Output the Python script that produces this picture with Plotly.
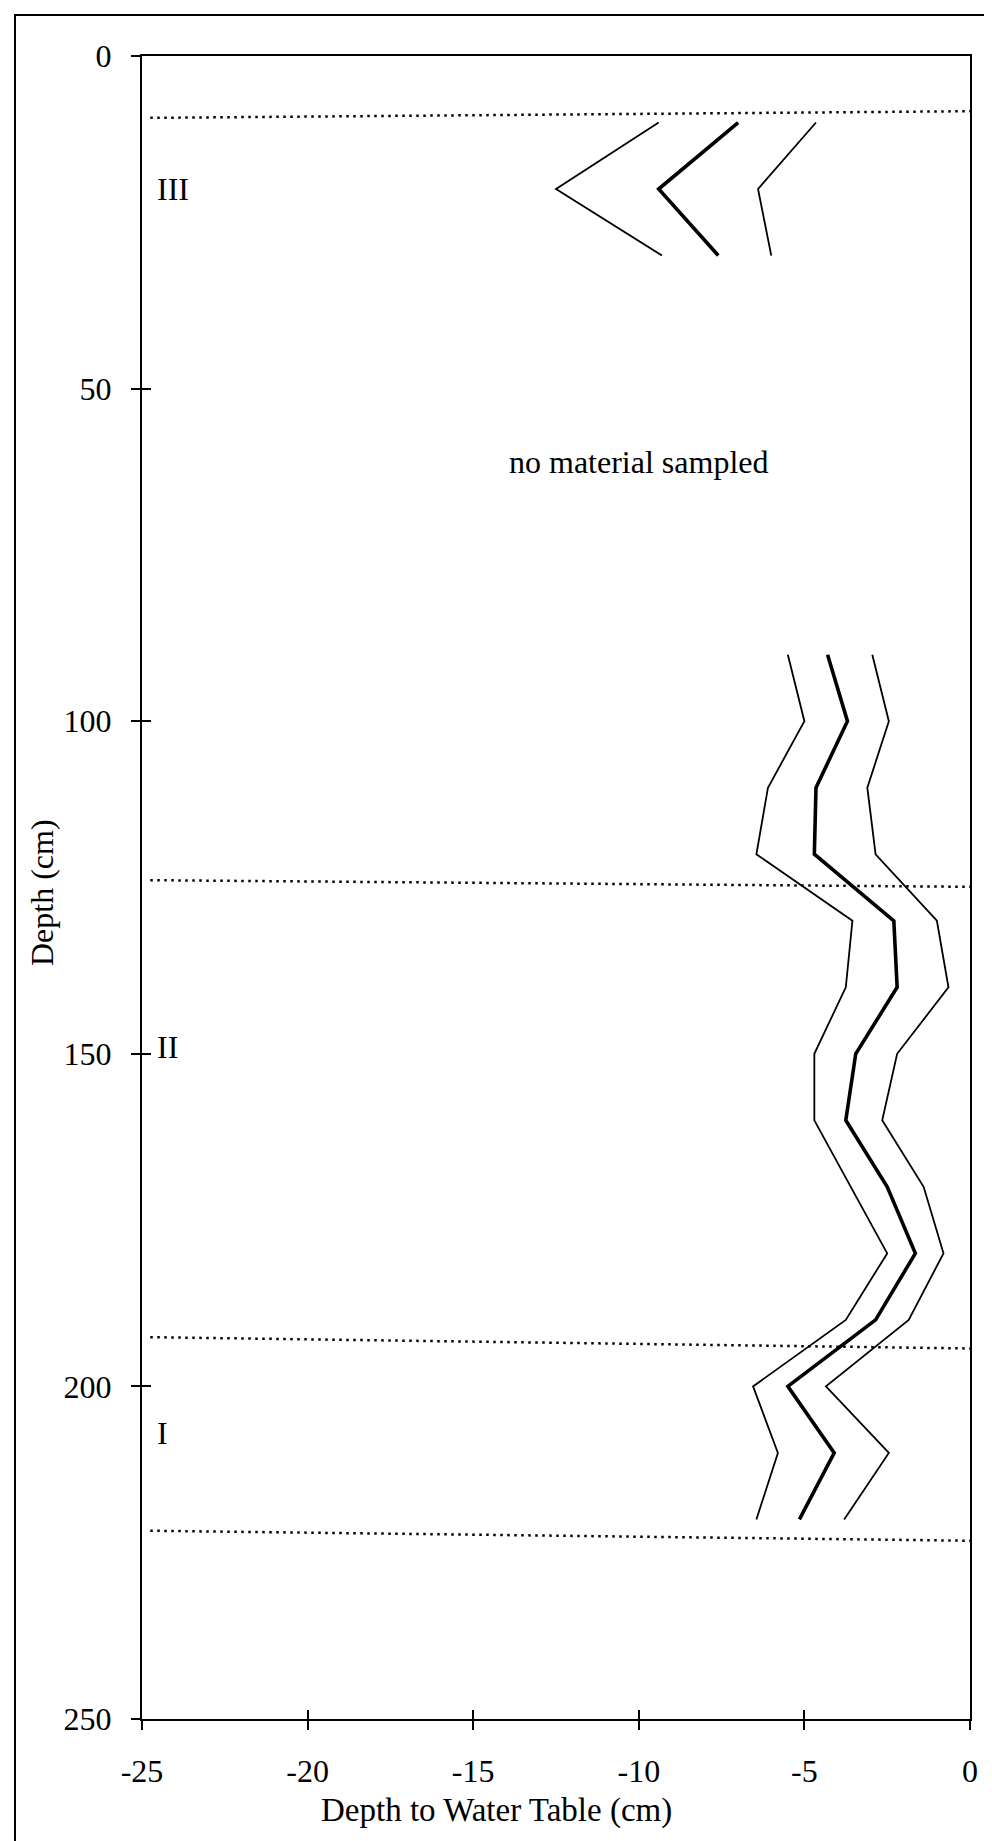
import plotly.graph_objects as go

# ---- data ----
depth_III = [10, 20, 30]
lower_III = [-9.4, -12.5, -9.3]
mean_III = [-7.0, -9.4, -7.6]
upper_III = [-4.65, -6.4, -6.0]

depth_I_II = [90, 100, 110, 120, 130, 140, 150, 160, 170, 180, 190, 200, 210, 220]
lower_I_II = [-5.5, -5.0, -6.1, -6.45, -3.55, -3.75, -4.7, -4.7, -3.6, -2.5, -3.75, -6.55, -5.8, -6.45]
mean_I_II = [-4.3, -3.7, -4.65, -4.7, -2.3, -2.2, -3.45, -3.75, -2.5, -1.65, -2.85, -5.5, -4.1, -5.15]
upper_I_II = [-2.95, -2.45, -3.1, -2.85, -1.0, -0.65, -2.2, -2.65, -1.4, -0.8, -1.85, -4.35, -2.45, -3.8]

# unit boundaries (depth at left end, depth at right end)
boundary_left = [9.3, 123.9, 192.6, 221.7]
boundary_right = [8.3, 124.9, 194.3, 223.2]
boundary_x = [-24.75, 0]

unit_labels = ["III", "II", "I"]
unit_depths = [20, 149, 207]

x_ticks = [-25, -20, -15, -10, -5, 0]
y_ticks = [0, 50, 100, 150, 200, 250]

FONT = "Liberation Serif, Times New Roman, serif"
BLACK = "#000000"

fig = go.Figure()

for bl, br in zip(boundary_left, boundary_right):
    fig.add_trace(go.Scatter(x=boundary_x, y=[bl, br], mode="lines",
                             line=dict(color=BLACK, width=2.5, dash="2.5px,4.5px"),
                             showlegend=False, hoverinfo="skip"))

for d, lo, me, up in [(depth_III, lower_III, mean_III, upper_III),
                      (depth_I_II, lower_I_II, mean_I_II, upper_I_II)]:
    fig.add_trace(go.Scatter(x=lo, y=d, mode="lines",
                             line=dict(color=BLACK, width=1.8), showlegend=False))
    fig.add_trace(go.Scatter(x=me, y=d, mode="lines",
                             line=dict(color=BLACK, width=3.6), showlegend=False))
    fig.add_trace(go.Scatter(x=up, y=d, mode="lines",
                             line=dict(color=BLACK, width=1.8), showlegend=False))

# dummy trace for the overlay axes (inner half of crossing ticks)
fig.add_trace(go.Scatter(x=[None], y=[None], xaxis="x2", yaxis="y2",
                         showlegend=False, hoverinfo="skip"))

axis_common = dict(showgrid=False, zeroline=False, linecolor=BLACK, linewidth=2,
                   ticks="outside", ticklen=9, tickwidth=1.8, tickcolor=BLACK,
                   tickfont=dict(family=FONT, size=32, color=BLACK))

fig.update_layout(
    width=992, height=1841,
    margin=dict(l=134, r=30, t=48, b=130),
    paper_bgcolor="white", plot_bgcolor="white",
    xaxis=dict(range=[-25, 0], tickvals=x_ticks, ticktext=[str(v) for v in x_ticks],
               showline=True, mirror=True, ticklabelstandoff=14, **axis_common),
    yaxis=dict(range=[250, 0], tickvals=y_ticks, ticktext=[str(v) for v in y_ticks],
               showline=True, mirror=True, ticklabelstandoff=13, **axis_common),
    xaxis2=dict(range=[-25, 0], tickvals=x_ticks, overlaying="x", anchor="y2",
                showticklabels=False, showgrid=False, zeroline=False, showline=False,
                ticks="inside", ticklen=9, tickwidth=1.8, tickcolor=BLACK),
    yaxis2=dict(range=[250, 0], tickvals=y_ticks, overlaying="y", anchor="x2",
                showticklabels=False, showgrid=False, zeroline=False, showline=False,
                ticks="inside", ticklen=9, tickwidth=1.8, tickcolor=BLACK),
    font=dict(family=FONT, color=BLACK),
)

# unit labels
for lab, dep in zip(unit_labels, unit_depths):
    fig.add_annotation(x=-24.6, y=dep, xref="x", yref="y", text=lab, showarrow=False,
                       xanchor="left", yanchor="middle",
                       font=dict(family=FONT, size=32, color=BLACK))

fig.add_annotation(x=-10, y=61, xref="x", yref="y", text="no material sampled",
                   showarrow=False, xanchor="center", yanchor="middle",
                   font=dict(family=FONT, size=32, color=BLACK))

# axis titles
fig.add_annotation(x=(488 - 134) / 828, y=-(1802 - 1711) / 1663, xref="paper", yref="paper",
                   text="Depth to Water Table (cm)", showarrow=False,
                   xanchor="center", yanchor="middle",
                   font=dict(family=FONT, size=33, color=BLACK))
fig.add_annotation(x=(34 - 134) / 828, y=(1711 - 885) / 1663, xref="paper", yref="paper",
                   text="Depth (cm)", showarrow=False, textangle=-90,
                   xanchor="center", yanchor="middle",
                   font=dict(family=FONT, size=32, color=BLACK))

# outer frame
fig.add_shape(type="rect", xref="paper", yref="paper",
              x0=(7 - 134) / 828, x1=(990 - 134) / 828,
              y0=-0.12, y1=(1711 - 7) / 1663,
              line=dict(color=BLACK, width=2), fillcolor="rgba(0,0,0,0)", layer="below")

fig.write_html("out.html")
